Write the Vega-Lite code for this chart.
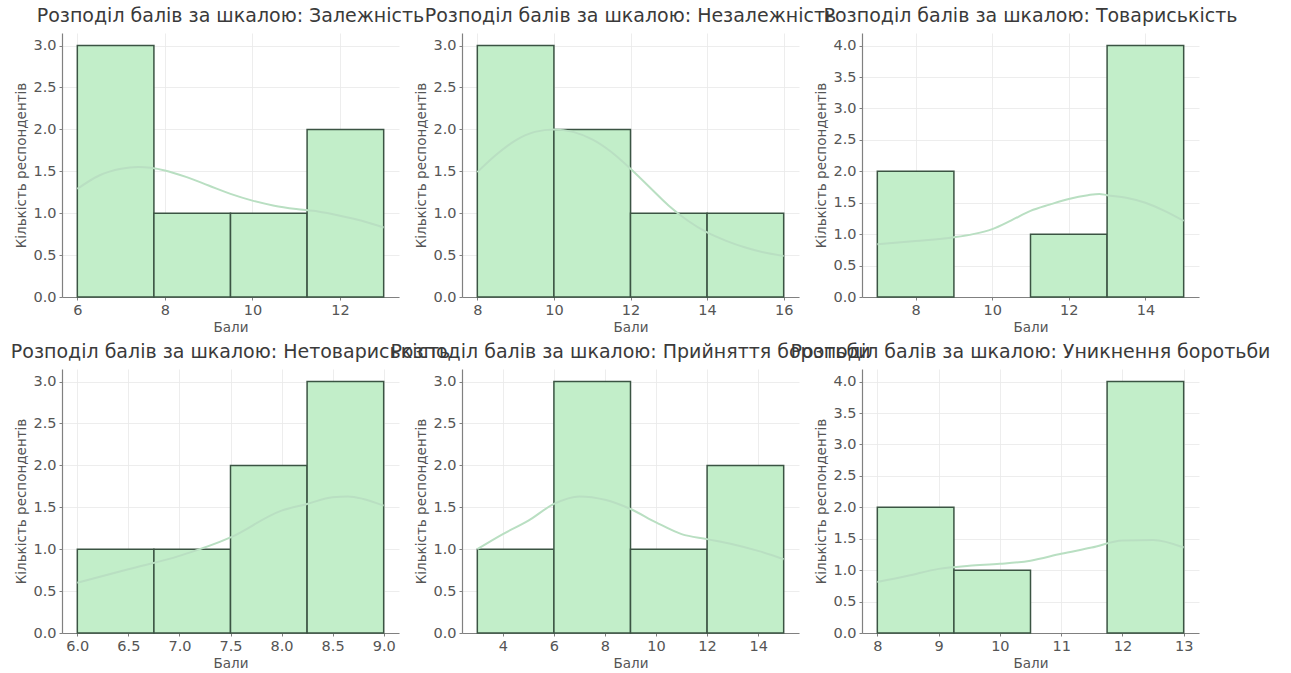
{
  "$schema": "https://vega.github.io/schema/vega-lite/v6.json",
  "background": "white",
  "padding": {"left": 10, "top": 7, "right": 5, "bottom": 5},
  "bounds": "flush",
  "spacing": {"row": 72, "column": 63},
  "columns": 3,
  "config": {
    "font": "DejaVu Sans",
    "view": {"stroke": null},
    "title": {"font": "DejaVu Sans", "fontSize": 19, "fontWeight": "normal", "color": "#3a3a3a", "anchor": "middle", "offset": 7},
    "axis": {
      "labelFont": "DejaVu Sans", "labelFontSize": 14.5, "labelColor": "#555555",
      "titleFont": "DejaVu Sans", "titleFontSize": 13.5, "titleFontWeight": "normal", "titleColor": "#555555",
      "domainColor": "#808080", "domainWidth": 1.2,
      "tickColor": "#808080", "tickSize": 3,
      "gridColor": "#e8e8e8", "gridWidth": 0.8,
      "labelPadding": 3, "labelOverlap": false
    }
  },
  "datasets": {
    "bars": [
      {"scale": "Залежність", "x0": 6, "x1": 7.75, "count": 3},
      {"scale": "Залежність", "x0": 7.75, "x1": 9.5, "count": 1},
      {"scale": "Залежність", "x0": 9.5, "x1": 11.25, "count": 1},
      {"scale": "Залежність", "x0": 11.25, "x1": 13, "count": 2},
      {"scale": "Незалежність", "x0": 8, "x1": 10, "count": 3},
      {"scale": "Незалежність", "x0": 10, "x1": 12, "count": 2},
      {"scale": "Незалежність", "x0": 12, "x1": 14, "count": 1},
      {"scale": "Незалежність", "x0": 14, "x1": 16, "count": 1},
      {"scale": "Товариськість", "x0": 7, "x1": 9, "count": 2},
      {"scale": "Товариськість", "x0": 11, "x1": 13, "count": 1},
      {"scale": "Товариськість", "x0": 13, "x1": 15, "count": 4},
      {"scale": "Нетовариськість", "x0": 6, "x1": 6.75, "count": 1},
      {"scale": "Нетовариськість", "x0": 6.75, "x1": 7.5, "count": 1},
      {"scale": "Нетовариськість", "x0": 7.5, "x1": 8.25, "count": 2},
      {"scale": "Нетовариськість", "x0": 8.25, "x1": 9, "count": 3},
      {"scale": "Прийняття боротьби", "x0": 3, "x1": 6, "count": 1},
      {"scale": "Прийняття боротьби", "x0": 6, "x1": 9, "count": 3},
      {"scale": "Прийняття боротьби", "x0": 9, "x1": 12, "count": 1},
      {"scale": "Прийняття боротьби", "x0": 12, "x1": 15, "count": 2},
      {"scale": "Уникнення боротьби", "x0": 8, "x1": 9.25, "count": 2},
      {"scale": "Уникнення боротьби", "x0": 9.25, "x1": 10.5, "count": 1},
      {"scale": "Уникнення боротьби", "x0": 11.75, "x1": 13, "count": 4}
    ],
    "kde": [
      {"scale": "Залежність", "x": 6, "y": 1.29},
      {"scale": "Залежність", "x": 6.5, "y": 1.45},
      {"scale": "Залежність", "x": 7, "y": 1.53},
      {"scale": "Залежність", "x": 7.4, "y": 1.55},
      {"scale": "Залежність", "x": 8, "y": 1.51},
      {"scale": "Залежність", "x": 8.5, "y": 1.43},
      {"scale": "Залежність", "x": 9, "y": 1.33},
      {"scale": "Залежність", "x": 9.5, "y": 1.23},
      {"scale": "Залежність", "x": 10, "y": 1.15},
      {"scale": "Залежність", "x": 10.5, "y": 1.09},
      {"scale": "Залежність", "x": 11, "y": 1.05},
      {"scale": "Залежність", "x": 11.5, "y": 1.02},
      {"scale": "Залежність", "x": 12, "y": 0.97},
      {"scale": "Залежність", "x": 12.5, "y": 0.91},
      {"scale": "Залежність", "x": 13, "y": 0.83},
      {"scale": "Незалежність", "x": 8, "y": 1.49},
      {"scale": "Незалежність", "x": 8.5, "y": 1.7},
      {"scale": "Незалежність", "x": 9, "y": 1.87},
      {"scale": "Незалежність", "x": 9.5, "y": 1.97},
      {"scale": "Незалежність", "x": 10, "y": 2.0},
      {"scale": "Незалежність", "x": 10.5, "y": 1.97},
      {"scale": "Незалежність", "x": 11, "y": 1.88},
      {"scale": "Незалежність", "x": 11.5, "y": 1.73},
      {"scale": "Незалежність", "x": 12, "y": 1.53},
      {"scale": "Незалежність", "x": 12.5, "y": 1.31},
      {"scale": "Незалежність", "x": 13, "y": 1.09},
      {"scale": "Незалежність", "x": 13.5, "y": 0.91},
      {"scale": "Незалежність", "x": 14, "y": 0.77},
      {"scale": "Незалежність", "x": 14.5, "y": 0.67},
      {"scale": "Незалежність", "x": 15, "y": 0.59},
      {"scale": "Незалежність", "x": 15.5, "y": 0.53},
      {"scale": "Незалежність", "x": 16, "y": 0.49},
      {"scale": "Товариськість", "x": 7, "y": 0.84},
      {"scale": "Товариськість", "x": 8, "y": 0.89},
      {"scale": "Товариськість", "x": 9, "y": 0.95},
      {"scale": "Товариськість", "x": 9.5, "y": 1.0},
      {"scale": "Товариськість", "x": 10, "y": 1.08},
      {"scale": "Товариськість", "x": 10.5, "y": 1.22},
      {"scale": "Товариськість", "x": 11, "y": 1.37},
      {"scale": "Товариськість", "x": 11.5, "y": 1.47},
      {"scale": "Товариськість", "x": 12, "y": 1.56},
      {"scale": "Товариськість", "x": 12.5, "y": 1.62},
      {"scale": "Товариськість", "x": 12.8, "y": 1.64},
      {"scale": "Товариськість", "x": 13, "y": 1.62},
      {"scale": "Товариськість", "x": 13.5, "y": 1.58},
      {"scale": "Товариськість", "x": 14, "y": 1.5},
      {"scale": "Товариськість", "x": 14.5, "y": 1.37},
      {"scale": "Товариськість", "x": 15, "y": 1.21},
      {"scale": "Нетовариськість", "x": 6, "y": 0.6},
      {"scale": "Нетовариськість", "x": 6.5, "y": 0.76},
      {"scale": "Нетовариськість", "x": 7, "y": 0.92},
      {"scale": "Нетовариськість", "x": 7.5, "y": 1.14},
      {"scale": "Нетовариськість", "x": 8, "y": 1.46},
      {"scale": "Нетовариськість", "x": 8.25, "y": 1.54},
      {"scale": "Нетовариськість", "x": 8.5, "y": 1.62},
      {"scale": "Нетовариськість", "x": 8.65, "y": 1.63},
      {"scale": "Нетовариськість", "x": 8.8, "y": 1.6},
      {"scale": "Нетовариськість", "x": 9, "y": 1.52},
      {"scale": "Прийняття боротьби", "x": 3, "y": 1.0},
      {"scale": "Прийняття боротьби", "x": 4, "y": 1.18},
      {"scale": "Прийняття боротьби", "x": 5, "y": 1.34},
      {"scale": "Прийняття боротьби", "x": 6, "y": 1.54},
      {"scale": "Прийняття боротьби", "x": 7, "y": 1.63},
      {"scale": "Прийняття боротьби", "x": 8, "y": 1.59},
      {"scale": "Прийняття боротьби", "x": 9, "y": 1.48},
      {"scale": "Прийняття боротьби", "x": 10, "y": 1.32},
      {"scale": "Прийняття боротьби", "x": 11, "y": 1.18},
      {"scale": "Прийняття боротьби", "x": 12, "y": 1.12},
      {"scale": "Прийняття боротьби", "x": 13, "y": 1.06},
      {"scale": "Прийняття боротьби", "x": 14, "y": 0.98},
      {"scale": "Прийняття боротьби", "x": 15, "y": 0.88},
      {"scale": "Уникнення боротьби", "x": 8, "y": 0.81},
      {"scale": "Уникнення боротьби", "x": 8.5, "y": 0.91},
      {"scale": "Уникнення боротьби", "x": 9, "y": 1.02},
      {"scale": "Уникнення боротьби", "x": 9.5, "y": 1.07},
      {"scale": "Уникнення боротьби", "x": 10, "y": 1.1},
      {"scale": "Уникнення боротьби", "x": 10.5, "y": 1.15},
      {"scale": "Уникнення боротьби", "x": 11, "y": 1.26},
      {"scale": "Уникнення боротьби", "x": 11.5, "y": 1.36},
      {"scale": "Уникнення боротьби", "x": 12, "y": 1.47},
      {"scale": "Уникнення боротьби", "x": 12.5, "y": 1.48},
      {"scale": "Уникнення боротьби", "x": 13, "y": 1.36}
    ]
  },
  "concat": [
    {
      "title": "Розподіл балів за шкалою: Залежність",
      "width": 337, "height": 264,
      "layer": [
        {"data": {"name": "bars"}, "transform": [{"filter": "datum.scale == 'Залежність'"}],
         "mark": {"type": "rect", "fill": "#c2eec9", "stroke": "#3b5443", "strokeWidth": 1.5},
         "encoding": {
           "x": {"field": "x0", "type": "quantitative", "scale": {"domain": [5.65, 13.35], "nice": false, "zero": false}, "axis": {"title": "Бали", "values": [6, 8, 10, 12], "format": "d"}},
           "x2": {"field": "x1"},
           "y": {"field": "count", "type": "quantitative", "scale": {"domain": [0, 3.15], "nice": false}, "axis": {"title": "Кількість респондентів", "values": [0, 0.5, 1, 1.5, 2, 2.5, 3], "format": ".1f"}},
           "y2": {"datum": 0}
         }},
        {"data": {"name": "kde"}, "transform": [{"filter": "datum.scale == 'Залежність'"}],
         "mark": {"type": "line", "color": "#b9dfc2", "strokeWidth": 2, "interpolate": "monotone"},
         "encoding": {
           "x": {"field": "x", "type": "quantitative", "axis": {"title": "Бали", "values": [6, 8, 10, 12], "format": "d"}},
           "y": {"field": "y", "type": "quantitative", "axis": {"title": "Кількість респондентів", "values": [0, 0.5, 1, 1.5, 2, 2.5, 3], "format": ".1f"}}
         }}
      ]
    },
    {
      "title": "Розподіл балів за шкалою: Незалежність",
      "width": 337, "height": 264,
      "layer": [
        {"data": {"name": "bars"}, "transform": [{"filter": "datum.scale == 'Незалежність'"}],
         "mark": {"type": "rect", "fill": "#c2eec9", "stroke": "#3b5443", "strokeWidth": 1.5},
         "encoding": {
           "x": {"field": "x0", "type": "quantitative", "scale": {"domain": [7.6, 16.4], "nice": false, "zero": false}, "axis": {"title": "Бали", "values": [8, 10, 12, 14, 16], "format": "d"}},
           "x2": {"field": "x1"},
           "y": {"field": "count", "type": "quantitative", "scale": {"domain": [0, 3.15], "nice": false}, "axis": {"title": "Кількість респондентів", "values": [0, 0.5, 1, 1.5, 2, 2.5, 3], "format": ".1f"}},
           "y2": {"datum": 0}
         }},
        {"data": {"name": "kde"}, "transform": [{"filter": "datum.scale == 'Незалежність'"}],
         "mark": {"type": "line", "color": "#b9dfc2", "strokeWidth": 2, "interpolate": "monotone"},
         "encoding": {
           "x": {"field": "x", "type": "quantitative", "axis": {"title": "Бали", "values": [8, 10, 12, 14, 16], "format": "d"}},
           "y": {"field": "y", "type": "quantitative", "axis": {"title": "Кількість респондентів", "values": [0, 0.5, 1, 1.5, 2, 2.5, 3], "format": ".1f"}}
         }}
      ]
    },
    {
      "title": "Розподіл балів за шкалою: Товариськість",
      "width": 337, "height": 264,
      "layer": [
        {"data": {"name": "bars"}, "transform": [{"filter": "datum.scale == 'Товариськість'"}],
         "mark": {"type": "rect", "fill": "#c2eec9", "stroke": "#3b5443", "strokeWidth": 1.5},
         "encoding": {
           "x": {"field": "x0", "type": "quantitative", "scale": {"domain": [6.6, 15.4], "nice": false, "zero": false}, "axis": {"title": "Бали", "values": [8, 10, 12, 14], "format": "d"}},
           "x2": {"field": "x1"},
           "y": {"field": "count", "type": "quantitative", "scale": {"domain": [0, 4.2], "nice": false}, "axis": {"title": "Кількість респондентів", "values": [0, 0.5, 1, 1.5, 2, 2.5, 3, 3.5, 4], "format": ".1f"}},
           "y2": {"datum": 0}
         }},
        {"data": {"name": "kde"}, "transform": [{"filter": "datum.scale == 'Товариськість'"}],
         "mark": {"type": "line", "color": "#b9dfc2", "strokeWidth": 2, "interpolate": "monotone"},
         "encoding": {
           "x": {"field": "x", "type": "quantitative", "axis": {"title": "Бали", "values": [8, 10, 12, 14], "format": "d"}},
           "y": {"field": "y", "type": "quantitative", "axis": {"title": "Кількість респондентів", "values": [0, 0.5, 1, 1.5, 2, 2.5, 3, 3.5, 4], "format": ".1f"}}
         }}
      ]
    },
    {
      "title": "Розподіл балів за шкалою: Нетовариськість",
      "width": 337, "height": 264,
      "layer": [
        {"data": {"name": "bars"}, "transform": [{"filter": "datum.scale == 'Нетовариськість'"}],
         "mark": {"type": "rect", "fill": "#c2eec9", "stroke": "#3b5443", "strokeWidth": 1.5},
         "encoding": {
           "x": {"field": "x0", "type": "quantitative", "scale": {"domain": [5.85, 9.15], "nice": false, "zero": false}, "axis": {"title": "Бали", "values": [6, 6.5, 7, 7.5, 8, 8.5, 9], "format": ".1f"}},
           "x2": {"field": "x1"},
           "y": {"field": "count", "type": "quantitative", "scale": {"domain": [0, 3.15], "nice": false}, "axis": {"title": "Кількість респондентів", "values": [0, 0.5, 1, 1.5, 2, 2.5, 3], "format": ".1f"}},
           "y2": {"datum": 0}
         }},
        {"data": {"name": "kde"}, "transform": [{"filter": "datum.scale == 'Нетовариськість'"}],
         "mark": {"type": "line", "color": "#b9dfc2", "strokeWidth": 2, "interpolate": "monotone"},
         "encoding": {
           "x": {"field": "x", "type": "quantitative", "axis": {"title": "Бали", "values": [6, 6.5, 7, 7.5, 8, 8.5, 9], "format": ".1f"}},
           "y": {"field": "y", "type": "quantitative", "axis": {"title": "Кількість респондентів", "values": [0, 0.5, 1, 1.5, 2, 2.5, 3], "format": ".1f"}}
         }}
      ]
    },
    {
      "title": "Розподіл балів за шкалою: Прийняття боротьби",
      "width": 337, "height": 264,
      "layer": [
        {"data": {"name": "bars"}, "transform": [{"filter": "datum.scale == 'Прийняття боротьби'"}],
         "mark": {"type": "rect", "fill": "#c2eec9", "stroke": "#3b5443", "strokeWidth": 1.5},
         "encoding": {
           "x": {"field": "x0", "type": "quantitative", "scale": {"domain": [2.4, 15.6], "nice": false, "zero": false}, "axis": {"title": "Бали", "values": [4, 6, 8, 10, 12, 14], "format": "d"}},
           "x2": {"field": "x1"},
           "y": {"field": "count", "type": "quantitative", "scale": {"domain": [0, 3.15], "nice": false}, "axis": {"title": "Кількість респондентів", "values": [0, 0.5, 1, 1.5, 2, 2.5, 3], "format": ".1f"}},
           "y2": {"datum": 0}
         }},
        {"data": {"name": "kde"}, "transform": [{"filter": "datum.scale == 'Прийняття боротьби'"}],
         "mark": {"type": "line", "color": "#b9dfc2", "strokeWidth": 2, "interpolate": "monotone"},
         "encoding": {
           "x": {"field": "x", "type": "quantitative", "axis": {"title": "Бали", "values": [4, 6, 8, 10, 12, 14], "format": "d"}},
           "y": {"field": "y", "type": "quantitative", "axis": {"title": "Кількість респондентів", "values": [0, 0.5, 1, 1.5, 2, 2.5, 3], "format": ".1f"}}
         }}
      ]
    },
    {
      "title": "Розподіл балів за шкалою: Уникнення боротьби",
      "width": 337, "height": 264,
      "layer": [
        {"data": {"name": "bars"}, "transform": [{"filter": "datum.scale == 'Уникнення боротьби'"}],
         "mark": {"type": "rect", "fill": "#c2eec9", "stroke": "#3b5443", "strokeWidth": 1.5},
         "encoding": {
           "x": {"field": "x0", "type": "quantitative", "scale": {"domain": [7.75, 13.25], "nice": false, "zero": false}, "axis": {"title": "Бали", "values": [8, 9, 10, 11, 12, 13], "format": "d"}},
           "x2": {"field": "x1"},
           "y": {"field": "count", "type": "quantitative", "scale": {"domain": [0, 4.2], "nice": false}, "axis": {"title": "Кількість респондентів", "values": [0, 0.5, 1, 1.5, 2, 2.5, 3, 3.5, 4], "format": ".1f"}},
           "y2": {"datum": 0}
         }},
        {"data": {"name": "kde"}, "transform": [{"filter": "datum.scale == 'Уникнення боротьби'"}],
         "mark": {"type": "line", "color": "#b9dfc2", "strokeWidth": 2, "interpolate": "monotone"},
         "encoding": {
           "x": {"field": "x", "type": "quantitative", "axis": {"title": "Бали", "values": [8, 9, 10, 11, 12, 13], "format": "d"}},
           "y": {"field": "y", "type": "quantitative", "axis": {"title": "Кількість респондентів", "values": [0, 0.5, 1, 1.5, 2, 2.5, 3, 3.5, 4], "format": ".1f"}}
         }}
      ]
    }
  ]
}
